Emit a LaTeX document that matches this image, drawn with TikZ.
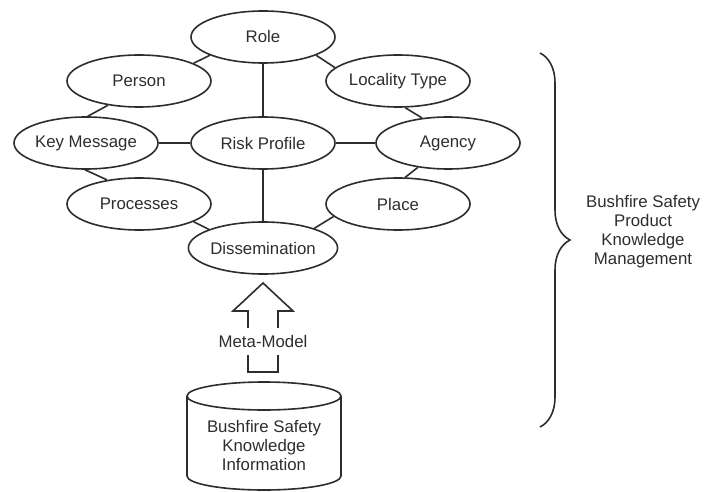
\documentclass[tikz,border=0pt]{standalone}
\usepackage{fontspec}
\setmainfont{Liberation Sans}
\usepackage{tikz}
\usetikzlibrary{shapes.geometric, decorations.pathreplacing}

\definecolor{ink}{RGB}{45,45,45}

\tikzset{
  concept/.style={ellipse, draw=ink, line width=0.8pt, inner sep=0pt,
    minimum width=72pt, minimum height=26pt, text=ink,
    font=\fontsize{8.4}{9.5}\selectfont},
  link/.style={draw=ink, line width=0.8pt},
  plain/.style={text=ink, align=center, font=\fontsize{8.4}{9.5}\selectfont}
}

\begin{document}
\begin{tikzpicture}[x=0.5pt, y=-0.5pt]
    \useasboundingbox (0,0) rectangle (704,491);

    % --- Concepts (ellipses) ---
    \node[concept] (role)   at (263,37)  {Role};
    \node[concept] (person) at (139,81)  {Person};
    \node[concept] (loc)    at (398,81)  {Locality Type};
    \node[concept] (keymsg) at (86,143)  {Key Message};
    \node[concept] (risk)   at (263,143) {Risk Profile};
    \node[concept] (agency) at (448,143) {Agency};
    \node[concept] (proc)   at (139,204) {Processes};
    \node[concept] (place)  at (398,204) {Place};
    \node[concept] (diss)   at (263,248) {Dissemination};

    % --- Links round the ring ---
    \draw[link] (role.199) -- (person.18);
    \draw[link] (role.341) -- (loc.168);
    \draw[link] (person.218) -- (keymsg.86);
    \draw[link] (keymsg.268) -- (proc.143);
    \draw[link] (loc.285) -- (agency.136);
    \draw[link] (agency.219) -- (place.75);
    \draw[link] (proc.342) -- (diss.161);
    \draw[link] (place.191) -- (diss.21);

    % --- Links through the centre ---
    \draw[link] (keymsg.east) -- (risk.west);
    \draw[link] (risk.east) -- (agency.west);
    \draw[link] (role.south) -- (risk.north);
    \draw[link] (risk.south) -- (diss.north);

    % --- Block arrow (meta-model) ---
    \draw[link] (248,372) -- (248,311) -- (233,311) -- (263,283) -- (293,311)
        -- (278,311) -- (278,372) -- cycle;
    \node[plain, fill=white, inner xsep=1pt, minimum height=13.5pt] (meta) at (263,341) {Meta-Model};

    % --- Knowledge store (cylinder) ---
    \draw[link] (187,396) -- (187,476) arc[start angle=180, end angle=360, x radius=38.5pt, y radius=7pt]
        -- (341,396);
    \draw[link] (264,396) ellipse [x radius=38.5pt, y radius=7pt];
    \node[plain] (kb) at (264,445) {Bushfire Safety\\Knowledge\\Information};

    % --- Brace and its label ---
    \draw[link, decorate, decoration={brace, amplitude=15pt}] (540,53) -- (540,427);
    \node[plain] (bk) at (643,232) {Bushfire Safety\\Product\\Knowledge\\Management};

\end{tikzpicture}
\end{document}
